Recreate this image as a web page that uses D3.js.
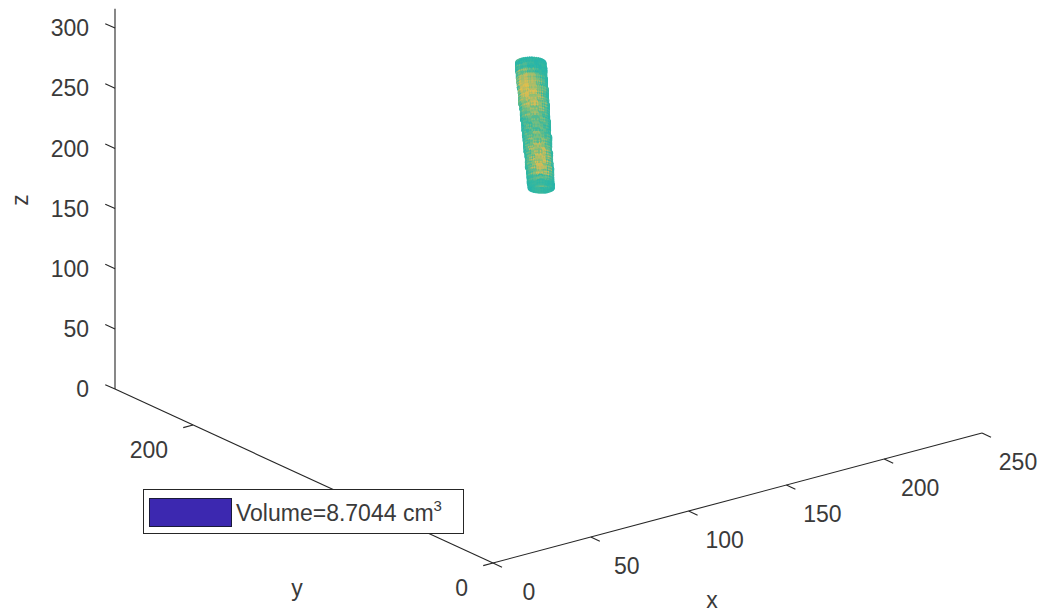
<!DOCTYPE html>
<html>
<head>
<meta charset="utf-8">
<script src="https://cdn.jsdelivr.net/npm/d3@7"></script>
<style>
  body { margin: 0; background: #fff; }
  svg text { font-family: "Liberation Sans", Arial, sans-serif; fill: #3a3a3a; }
</style>
</head>
<body>
<div id="chart"></div>
<script>
// axis limits and ticks
var xTicks = [0, 50, 100, 150, 200, 250];
var yTicks = [0, 200];
var zTicks = [0, 50, 100, 150, 200, 250, 300];
var xLim = [0, 250], yLim = [0, 252], zLim = [0, 316];

var legendLabel = "Volume=8.7044 cm";
var legendSup = "3";

// point cloud, one ring per slice (top -> bottom)
var sliceZ  = [288, 283.5, 279, 274.5, 270, 265.5, 261, 256.5, 252, 247.5, 243, 238.5,
               234, 229.5, 225, 220.5, 216, 211.5, 207, 202.5, 198, 193.5, 189, 185];
var sliceCx = [119, 119.3, 119.4, 119.7, 119.8, 120.3, 120.4, 120.5, 121, 121.1, 121.2, 121.7,
               121.8, 121.9, 122.4, 122.5, 122.6, 123.1, 123.2, 123.3, 123.8, 123.9, 124, 124.3];
var sliceR  = [5.8, 5.9, 5.8, 5.8, 5.7, 5.7, 5.6, 5.7, 5.6, 5.5, 5.5, 5.4,
               5.4, 5.3, 5.4, 5.3, 5.2, 5.2, 5.1, 5.2, 5.1, 5.0, 5.0, 4.9];
var cylCy = 130;
// colour value per slice, left edge -> front -> right edge
var sliceVal = [
  [.50,.48,.49,.51,.49,.48,.50,.49],
  [.49,.52,.55,.50,.48,.51,.49,.48],
  [.51,.57,.63,.55,.52,.49,.51,.50],
  [.55,.66,.74,.68,.60,.55,.50,.49],
  [.52,.70,.78,.72,.66,.57,.52,.50],
  [.57,.74,.80,.70,.63,.61,.55,.49],
  [.51,.68,.76,.78,.68,.57,.51,.50],
  [.55,.63,.74,.66,.74,.60,.55,.49],
  [.50,.60,.68,.76,.63,.66,.52,.50],
  [.52,.57,.63,.60,.70,.57,.55,.49],
  [.49,.55,.60,.68,.57,.61,.51,.48],
  [.50,.52,.57,.55,.63,.55,.53,.49],
  [.48,.55,.51,.60,.55,.58,.50,.48],
  [.51,.50,.57,.52,.59,.52,.55,.49],
  [.49,.53,.55,.61,.55,.60,.51,.48],
  [.50,.51,.60,.55,.66,.57,.52,.49],
  [.48,.55,.57,.70,.61,.63,.55,.50],
  [.50,.52,.63,.60,.74,.66,.52,.48],
  [.49,.57,.55,.72,.66,.76,.57,.49],
  [.51,.53,.61,.63,.78,.68,.55,.50],
  [.49,.55,.57,.74,.68,.72,.52,.48],
  [.50,.52,.60,.66,.76,.61,.55,.49],
  [.49,.51,.55,.57,.60,.55,.51,.50],
  [.48,.50,.51,.52,.50,.51,.49,.48]
];
var parula = ["#352a87","#0f5cdd","#1481d6","#06a4ca","#2eb7a4","#87bf77","#d1bb59","#fec832","#f9fb0e"];
var legendColor = "#3c28b0";

var width = 1046, height = 613;
var axisColor = "#262626";
var fontSize = 23;

var svg = d3.select("#chart").append("svg")
  .attr("width", width).attr("height", height);
svg.append("rect").attr("width", width).attr("height", height).attr("fill", "#fff");

// projection: each data axis contributes a screen offset
var originX = 493, originY = 563;
var xToH = d3.scaleLinear().domain([0, 250]).range([0, 489]);
var xToV = d3.scaleLinear().domain([0, 250]).range([0, -130]);
var yToH = d3.scaleLinear().domain([0, 200]).range([0, -300]);
var yToV = d3.scaleLinear().domain([0, 200]).range([0, -138]);
var zToV = d3.scaleLinear().domain([0, 300]).range([0, -361]);
var color = d3.scaleLinear().domain(d3.range(9).map(function(i) { return i / 8; })).range(parula);

var project = function(x, y, z) {
  return [originX + xToH(x) + yToH(y), originY + xToV(x) + yToV(y) + zToV(z)];
};

var drawLine = function(g, a, b) {
  g.append("line")
    .attr("x1", a[0]).attr("y1", a[1])
    .attr("x2", b[0]).attr("y2", b[1])
    .attr("stroke", axisColor).attr("stroke-width", 1.1);
};

var axes = svg.append("g");
// axis lines
drawLine(axes, project(0, 0, 0), project(xLim[1], 0, 0));
drawLine(axes, project(0, 0, 0), project(0, yLim[1], 0));
drawLine(axes, project(0, yLim[1], 0), project(0, yLim[1], zLim[1]));

// x ticks
xTicks.forEach(function(t) {
  var p = project(t, 0, 0);
  drawLine(axes, p, project(t, -6, 0));
  axes.append("text").attr("x", p[0] + 36).attr("y", p[1] + 29).attr("dy", "0.35em")
    .attr("text-anchor", "middle").attr("font-size", fontSize).text(t);
});
// y ticks
yTicks.forEach(function(t) {
  var p = project(0, t, 0);
  drawLine(axes, p, project(-5, t, 0));
  axes.append("text").attr("x", p[0] - 25).attr("y", p[1] + 25).attr("dy", "0.35em")
    .attr("text-anchor", "end").attr("font-size", fontSize).text(t);
});
// z ticks
zTicks.forEach(function(t) {
  var p = project(0, yLim[1], t);
  drawLine(axes, p, project(0, yLim[1] + 6.5, t));
  axes.append("text").attr("x", p[0] - 26).attr("y", p[1]).attr("dy", "0.35em")
    .attr("text-anchor", "end").attr("font-size", fontSize).text(t);
});

// axis titles
axes.append("text").attr("x", 712).attr("y", 600).attr("dy", "0.35em")
  .attr("text-anchor", "middle").attr("font-size", fontSize).text("x");
axes.append("text").attr("x", 297).attr("y", 588).attr("dy", "0.35em")
  .attr("text-anchor", "middle").attr("font-size", fontSize).text("y");
axes.append("text").attr("transform", "translate(20,200) rotate(-90)").attr("dy", "0.35em")
  .attr("text-anchor", "middle").attr("font-size", fontSize).text("z");

// build the cloud dots from the slice table
var nAng = 40;
var leftEdge = 142.5 * Math.PI / 180; // angle of the left silhouette
var subRings = [-1.7, -0.6, 0.6, 1.7];
var dots = [];
sliceZ.forEach(function(z, i) {
  subRings.forEach(function(dz, s) {
    for (var j = 0; j < nAng; ++j) {
      var a = leftEdge + (j + (s % 2) * 0.5) * 2 * Math.PI / nAng;
      var k = j <= nAng / 2 ? j : nAng - j;
      // neighbouring sub-rings read neighbouring cells, for a speckled look
      var col = Math.max(0, Math.min(7, Math.floor((k + (s % 2) * 3 - 1) * 8 / (nAng / 2 + 1))));
      var row = s === 3 ? Math.min(i + 1, sliceZ.length - 1) : i;
      var px = sliceCx[i] + sliceR[i] * Math.cos(a);
      var py = cylCy + sliceR[i] * Math.sin(a);
      dots.push({x: px, y: py, z: z + dz, v: sliceVal[row][col]});
    }
  });
});
// top cap
[[0, 1], [0.35, 8], [0.7, 16]].forEach(function(ring) {
  for (var j = 0; j < ring[1]; ++j) {
    var a = leftEdge + j * 2 * Math.PI / ring[1];
    dots.push({
      x: sliceCx[0] + ring[0] * sliceR[0] * Math.cos(a),
      y: cylCy + ring[0] * sliceR[0] * Math.sin(a),
      z: sliceZ[0] + 1.7,
      v: sliceVal[0][j % 8]
    });
  }
});
dots.forEach(function(d) { d.depth = -(xToV(d.x) + yToV(d.y)); });
dots.sort(function(a, b) { return a.depth - b.depth; });

svg.append("g").selectAll("circle")
  .data(dots)
  .join("circle")
    .attr("cx", function(d) { return project(d.x, d.y, d.z)[0]; })
    .attr("cy", function(d) { return project(d.x, d.y, d.z)[1]; })
    .attr("r", 1.5)
    .attr("fill", function(d) { return color(d.v); });

// legend
var legend = svg.append("g");
legend.append("rect")
  .attr("x", 143.5).attr("y", 489.5).attr("width", 320).attr("height", 44)
  .attr("fill", "#fff").attr("stroke", axisColor).attr("stroke-width", 1);
legend.append("rect")
  .attr("x", 149.5).attr("y", 498.5).attr("width", 82).attr("height", 28)
  .attr("fill", legendColor).attr("stroke", "#1a1a3a").attr("stroke-width", 1);
var lt = legend.append("text").attr("x", 236).attr("y", 521).attr("font-size", fontSize);
lt.append("tspan").text(legendLabel);
lt.append("tspan").attr("dy", -10).attr("font-size", 15).text(legendSup);
</script>
</body>
</html>
